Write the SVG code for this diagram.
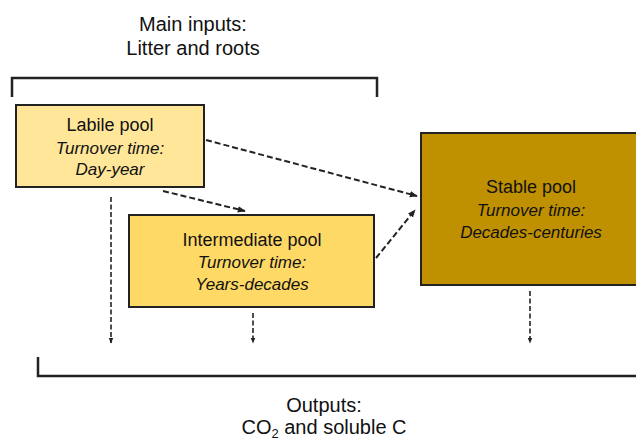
<svg xmlns="http://www.w3.org/2000/svg" width="636" height="440" viewBox="0 0 636 440">
<defs>
<style>
text{font-family:"Liberation Sans",Arial,sans-serif;fill:#111;text-anchor:middle}
.t{font-size:18px}
.i{font-size:17px;font-style:italic}
.big{font-size:20px}
.box{stroke:#222;stroke-width:2}
.br{fill:none;stroke:#222;stroke-width:2.5}
.dash{fill:none;stroke:#222;stroke-width:2;stroke-dasharray:6 3;marker-end:url(#ah)}
.vdash{fill:none;stroke:#222;stroke-width:1.6;stroke-dasharray:5 2.5;marker-end:url(#ah2)}
</style>
<marker id="ah" viewBox="0 0 10 10" refX="9" refY="5" markerWidth="8" markerHeight="8" markerUnits="userSpaceOnUse" orient="auto">
<path d="M0,1 L10,5 L0,9 z" fill="#222"/>
</marker>
<marker id="ah2" viewBox="0 0 10 10" refX="9" refY="5" markerWidth="6" markerHeight="6" markerUnits="userSpaceOnUse" orient="auto">
<path d="M0,1 L10,5 L0,9 z" fill="#222"/>
</marker>
</defs>
<rect width="636" height="440" fill="#fff"/>
<g id="inputs">
<text class="big" x="193" y="31">Main inputs:</text>
<text class="big" x="193" y="55">Litter and roots</text>
<path class="br" d="M12,97 V78 H377 V97"/>
</g>
<g id="labile">
<rect class="box" x="16" y="105" width="188" height="82" fill="#FFE699"/>
<text class="t" x="110" y="131">Labile pool</text>
<text class="i" x="110" y="154">Turnover time:</text>
<text class="i" x="110" y="175">Day-year</text>
</g>
<g id="intermediate">
<rect class="box" x="129" y="215" width="245" height="92" fill="#FFD966"/>
<text class="t" x="252" y="246">Intermediate pool</text>
<text class="i" x="252" y="268">Turnover time:</text>
<text class="i" x="252" y="290">Years-decades</text>
</g>
<g id="stable">
<rect class="box" x="421" y="133" width="220" height="152" fill="#BF9000"/>
<text class="t" x="531" y="193">Stable pool</text>
<text class="i" x="531" y="216">Turnover time:</text>
<text class="i" x="531" y="238">Decades-centuries</text>
</g>
<g id="outputs">
<path class="br" d="M38,357 V376 H640"/>
<text class="big" x="324" y="412">Outputs:</text>
<text class="big" x="324" y="434">CO<tspan font-size="13" dy="4">2</tspan><tspan dy="-4"> and soluble C</tspan></text>
</g>
<g id="connectors">
<path class="dash" d="M206,140 L417,196"/>
<path class="dash" d="M163,191 L245,211"/>
<path class="dash" d="M376,258 L415,210"/>
<path class="vdash" d="M111,197 V343"/>
<path class="vdash" d="M253,313 V343"/>
<path class="vdash" d="M530,291 V343"/>
</g>
</svg>
